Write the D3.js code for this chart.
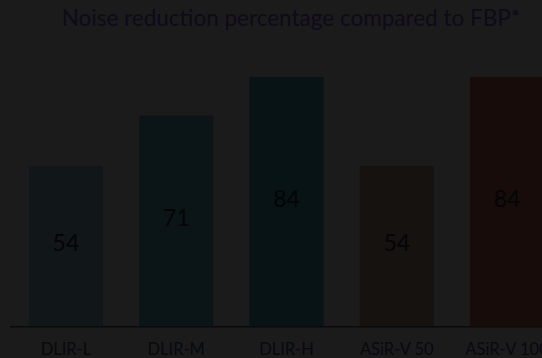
<!DOCTYPE html>
<html><head><meta charset="utf-8">
<script src="https://cdn.jsdelivr.net/npm/d3@7"></script>
<style>
html,body{margin:0;padding:0;background:#1b1b1b;overflow:hidden;}
svg{display:block;}
</style></head>
<body>
<svg id="chart" width="542" height="358"></svg>
<script>
const categories = ["DLIR-L", "DLIR-M", "DLIR-H", "ASiR-V 50", "ASiR-V 100"];
const values = [54, 71, 84, 54, 84];
const barColors = ["#111619", "#0b1517", "#071315", "#16120f", "#170c0a"];
const titleText = "Noise reduction percentage compared to FBP*";

const W = 542, H = 358;
const svg = d3.select("#chart");
svg.append("rect").attr("width", W).attr("height", H).attr("fill", "#1b1b1b");

const baseY = 326, topY = 77;
const x = d3.scaleBand().domain(categories)
  .range([10, 563]).paddingInner(0.329).paddingOuter(0.172);
const y = d3.scaleLinear().domain([0, 84]).range([baseY, topY]);

const font = "'Source Sans Pro', Lato, 'Noto Sans', sans-serif";

svg.append("text").attr("x", 291).attr("y", 26)
  .attr("text-anchor", "middle").attr("font-family", font)
  .attr("font-size", 22.5).attr("fill", "#0e0a1a").text(titleText);

svg.append("g").selectAll("rect").data(values).join("rect")
  .attr("x", (d, i) => x(categories[i]))
  .attr("y", d => y(d))
  .attr("width", x.bandwidth())
  .attr("height", d => baseY - y(d))
  .attr("fill", (d, i) => barColors[i]);

svg.append("g").selectAll("text").data(values).join("text")
  .attr("x", (d, i) => x(categories[i]) + x.bandwidth() / 2)
  .attr("y", d => (y(d) + baseY) / 2 + 5)
  .attr("text-anchor", "middle").attr("font-family", font)
  .attr("font-size", 23).attr("fill", "#040506")
  .text(d => d);

const axis = svg.append("g").attr("transform", `translate(0,${baseY})`)
  .call(d3.axisBottom(x).tickSize(0).tickPadding(17));
axis.select(".domain").attr("stroke", "#0a0a0a").attr("stroke-width", 1.5)
  .attr("d", `M10,0.75H${W + 30}`);
axis.selectAll("text").attr("font-family", font).attr("font-size", 16.5)
  .attr("fill", "#09090e");
</script>
</body></html>
